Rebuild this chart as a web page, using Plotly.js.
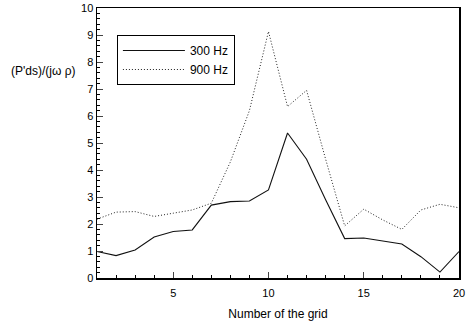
<!DOCTYPE html>
<html>
<head>
<meta charset="utf-8">
<script src="https://cdn.plot.ly/plotly-3.0.1.min.js"></script>
<style>html,body{margin:0;padding:0;background:#fff;}#chart{width:468px;height:324px;}</style>
</head>
<body>
<div id="chart"></div>
<script>
const grid = [1,2,3,4,5,6,7,8,9,10,11,12,13,14,15,16,17,18,19,20];
const hz300 = [0.98,0.83,1.04,1.52,1.72,1.78,2.70,2.83,2.85,3.26,5.37,4.40,2.90,1.46,1.48,1.36,1.26,0.79,0.22,0.98];
const hz900 = [2.18,2.44,2.46,2.28,2.40,2.52,2.77,4.30,6.20,9.13,6.35,6.95,4.40,1.93,2.55,2.15,1.80,2.52,2.73,2.60];
const seriesNames = ['300 Hz','900 Hz'];
const xTitle = 'Number of the grid';
const yTitle = "(P'ds)/(jω ρ)";

const font = {family: 'Liberation Sans, Arial, sans-serif', color: '#000'};
const traces = [
  {x: grid, y: hz300, name: seriesNames[0], mode: 'lines', line: {color: '#111', width: 1.1}},
  {x: grid, y: hz900, name: seriesNames[1], mode: 'lines', line: {color: '#222', width: 1, dash: '1px,2px'}}
];
const layout = {
  width: 468, height: 324,
  margin: {l: 97, r: 9, t: 8, b: 46},
  paper_bgcolor: '#fff', plot_bgcolor: '#fff',
  font: Object.assign({size: 11}, font),
  showlegend: true,
  legend: {
    x: 0.055, y: 0.9, xanchor: 'left', yanchor: 'top',
    bordercolor: '#000', borderwidth: 1, bgcolor: '#fff',
    font: Object.assign({size: 12}, font),
    itemwidth: 62, tracegroupgap: 0
  },
  xaxis: {
    range: [1, 20], tickvals: [5,10,15,20], ticks: 'inside', ticklen: 6, tickwidth: 1,
    minor: {dtick: 1, tick0: 1, ticks: 'inside', ticklen: 3, tickwidth: 1, tickcolor: '#000', showgrid: false},
    showline: true, linecolor: '#000', linewidth: 1.5, mirror: true, showgrid: false, zeroline: false,
    ticklabelstandoff: 4,
    tickfont: Object.assign({size: 11}, font),
    title: {text: xTitle, font: Object.assign({size: 12}, font), standoff: 12}
  },
  yaxis: {
    range: [0, 10], dtick: 1, ticks: 'inside', ticklen: 6, tickwidth: 1,
    minor: {dtick: 0.2, ticks: 'inside', ticklen: 3, tickwidth: 1, tickcolor: '#000', showgrid: false},
    showline: true, linecolor: '#000', linewidth: 1.5, mirror: true, showgrid: false, zeroline: false,
    tickfont: Object.assign({size: 11}, font)
  },
  annotations: [{
    xref: 'paper', yref: 'paper', x: -0.15, y: (278-71)/270, xanchor: 'center', yanchor: 'middle',
    text: yTitle, showarrow: false, font: Object.assign({size: 12}, font)
  }]
};
Plotly.newPlot('chart', traces, layout, {displayModeBar: false, staticPlot: true});
</script>
</body>
</html>
